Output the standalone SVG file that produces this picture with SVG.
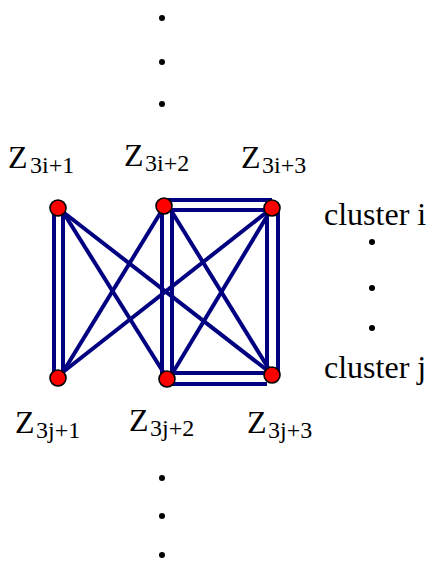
<svg xmlns="http://www.w3.org/2000/svg" width="433" height="561" viewBox="0 0 433 561">
<style>
.e{stroke:#000080;stroke-width:4;fill:none;stroke-linecap:butt}
.n{fill:#ff0000;stroke:#000;stroke-width:1.6}
.d{fill:#000}
text{font-family:'Liberation Serif','Times New Roman',Times,serif;fill:#000}
.z{font-size:32px}
.s{font-size:24px}
.c{font-size:32px}
</style>
<g id="dots">
<circle class="d" cx="162" cy="18" r="3"/>
<circle class="d" cx="162" cy="62" r="3"/>
<circle class="d" cx="162" cy="104" r="3"/>
<circle class="d" cx="162" cy="478" r="3"/>
<circle class="d" cx="162" cy="516" r="3"/>
<circle class="d" cx="162" cy="555" r="3"/>
<circle class="d" cx="372" cy="242" r="3"/>
<circle class="d" cx="372" cy="288" r="3"/>
<circle class="d" cx="372" cy="328" r="3"/>
</g>
<g id="connectors">
<line class="e" x1="54" y1="210" x2="54" y2="378"/>
<line class="e" x1="63" y1="212" x2="63" y2="372"/>
<line class="e" x1="162" y1="206" x2="162" y2="379"/>
<line class="e" x1="172" y1="210" x2="172" y2="374"/>
<line class="e" x1="267" y1="210" x2="267" y2="374"/>
<line class="e" x1="278" y1="208" x2="278" y2="372"/>
<line class="e" x1="164" y1="200" x2="272" y2="200"/>
<line class="e" x1="172" y1="210" x2="272" y2="210"/>
<line class="e" x1="172" y1="373" x2="272" y2="373"/>
<line class="e" x1="167" y1="384" x2="267" y2="384"/>
<line class="e" x1="63" y1="212" x2="167" y2="378"/>
<line class="e" x1="63" y1="212" x2="272" y2="374"/>
<line class="e" x1="164" y1="207" x2="63" y2="372"/>
<line class="e" x1="172" y1="212" x2="272" y2="374"/>
<line class="e" x1="272" y1="208" x2="63" y2="372"/>
<line class="e" x1="272" y1="208" x2="172" y2="374"/>
</g>
<g id="node-3i1"><circle class="n" cx="58" cy="208" r="8"/></g>
<g id="node-3i2"><circle class="n" cx="164" cy="206" r="8"/></g>
<g id="node-3i3"><circle class="n" cx="272" cy="208" r="8"/></g>
<g id="node-3j1"><circle class="n" cx="58" cy="378" r="8"/></g>
<g id="node-3j2"><circle class="n" cx="167" cy="379" r="8"/></g>
<g id="node-3j3"><circle class="n" cx="272" cy="375" r="8"/></g>
<g id="labels">
<text class="z" font-family="Liberation Serif, serif"><tspan x="8" y="168">Z</tspan><tspan class="s" x="30" y="173">3i+1</tspan></text>
<text class="z" font-family="Liberation Serif, serif"><tspan x="124" y="166">Z</tspan><tspan class="s" x="145" y="171">3i+2</tspan></text>
<text class="z" font-family="Liberation Serif, serif"><tspan x="241" y="168">Z</tspan><tspan class="s" x="262" y="173">3i+3</tspan></text>
<text class="z" font-family="Liberation Serif, serif"><tspan x="15" y="433">Z</tspan><tspan class="s" x="36" y="438">3j+1</tspan></text>
<text class="z" font-family="Liberation Serif, serif"><tspan x="129" y="431">Z</tspan><tspan class="s" x="150" y="436">3j+2</tspan></text>
<text class="z" font-family="Liberation Serif, serif"><tspan x="247" y="433">Z</tspan><tspan class="s" x="268" y="438">3j+3</tspan></text>
<text class="c" font-family="Liberation Serif, serif" x="324" y="225">cluster i</text>
<text class="c" font-family="Liberation Serif, serif" x="324" y="378">cluster j</text>
</g>
</svg>
